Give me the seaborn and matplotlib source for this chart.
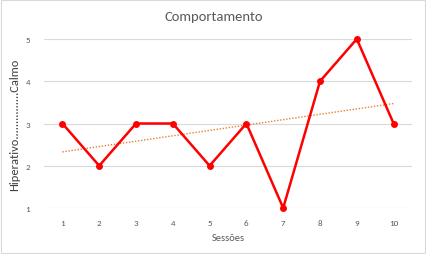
import matplotlib
matplotlib.use("Agg")
import matplotlib.pyplot as plt
import seaborn as sns
import numpy as np
import pandas as pd

sessions = [1, 2, 3, 4, 5, 6, 7, 8, 9, 10]
scores = [3, 2, 3, 3, 2, 3, 1, 4, 5, 3]
title = "Comportamento"
xlabel = "Sessões"
ylabel = "Hiperativo...............Calmo"

df = pd.DataFrame({"Sessão": sessions, "Valor": scores})

sns.set_style("white")
plt.rcParams['font.family'] = ['Calibri', 'Carlito', 'Liberation Sans', 'DejaVu Sans']

fig = plt.figure(figsize=(4.27, 2.55), dpi=100)
ax = fig.add_axes([44/427, 1-209/255, (412-44)/427, (209-40)/255])

for v in [1, 2, 3, 4, 5]:
    ax.axhline(v, color="#d9d9d9", lw=0.8, zorder=0)

sns.regplot(data=df, x="Sessão", y="Valor", scatter=False, ci=None, ax=ax,
            line_kws=dict(color="#ed7d31", lw=1.0, ls=(0, (1, 1.2))))
sns.lineplot(data=df, x="Sessão", y="Valor", color="#ff0000", lw=1.8, marker="o",
             markersize=5, markeredgewidth=0, ax=ax, clip_on=False)

ax.set_xlim(0.5, 10.5)
ax.set_ylim(1, 5)
ax.set_xticks(sessions)
ax.set_xticklabels([str(s) for s in sessions])
ax.set_yticks([1, 2, 3, 4, 5])
ax.tick_params(axis="both", length=0, labelsize=6.5, labelcolor="#595959")
ax.tick_params(axis="x", pad=8)
ax.tick_params(axis="y", pad=10)
for s in ax.spines.values():
    s.set_visible(False)
ax.set_xlabel(xlabel, fontsize=7.5, color="#595959", labelpad=5)
ax.set_ylabel(ylabel, fontsize=9, color="#404040", labelpad=4)
fig.text(0.5, 1-17/255, title, ha="center", va="center", fontsize=10.5, color="#595959")

fig.patches.append(plt.Rectangle((0.002, 0.004), 0.994, 0.992, transform=fig.transFigure,
                                 fill=False, edgecolor="#d9d9d9", lw=0.8))
fig.savefig("out.png", dpi=100, facecolor="white")
